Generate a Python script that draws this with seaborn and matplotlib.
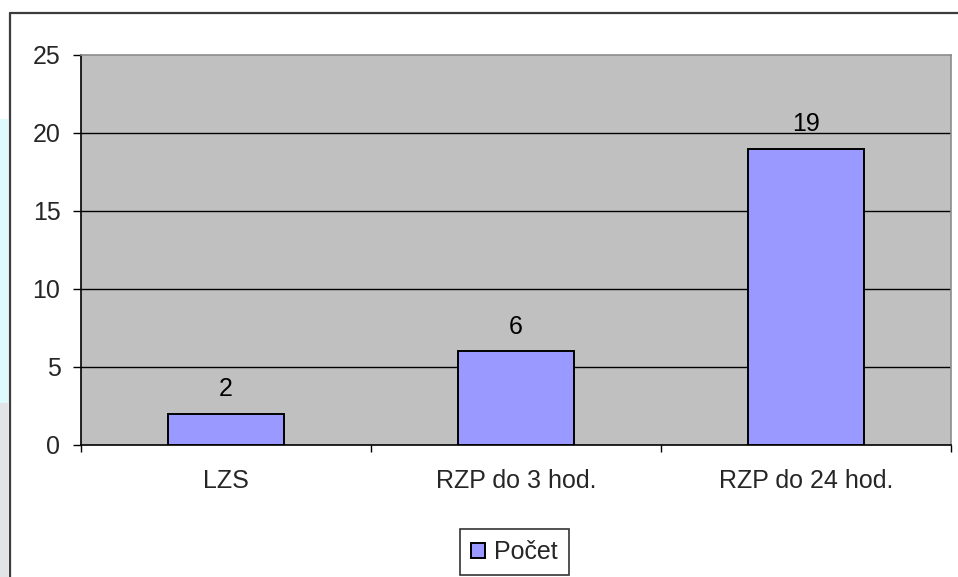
import matplotlib
matplotlib.use("Agg")
import matplotlib.pyplot as plt
from matplotlib.lines import Line2D
from matplotlib.patches import Rectangle
import seaborn as sns
import pandas as pd

# Data
categories = ["LZS", "RZP do 3 hod.", "RZP do 24 hod."]
counts = [2, 6, 19]
series_name = "Počet"
y_ticks = [0, 5, 10, 15, 20, 25]

sns.set_theme(style="white")
plt.rcParams["font.family"] = ["Liberation Sans", "DejaVu Sans"]
FS = 18
plt.rcParams["font.size"] = FS

W, H = 958, 577
fig = plt.figure(figsize=(W / 100, H / 100), dpi=100)
fig.patch.set_facecolor("white")

def fx(px):
    return px / W

def fy(py):
    return 1 - py / H

# Window edge strip on the far left
fig.add_artist(Rectangle((0, fy(403)), fx(8), fy(119) - fy(403),
                         transform=fig.transFigure, facecolor="#DDFBFD",
                         edgecolor="none", zorder=0))
fig.add_artist(Rectangle((0, 0), fx(8), fy(403),
                         transform=fig.transFigure, facecolor="#E2E4E8",
                         edgecolor="none", zorder=0))

# Chart frame (left and top edges)
frame_kw = dict(transform=fig.transFigure, color="#3C3C3C", linewidth=1.6, zorder=1)
fig.add_artist(Line2D([fx(9.5), fx(9.5)], [0, fy(13)], **frame_kw))
fig.add_artist(Line2D([fx(9.5), 1], [fy(13), fy(13)], **frame_kw))

ax = fig.add_axes([fx(81), fy(445), fx(951) - fx(81), fy(55) - fy(445)])
ax.set_facecolor("#C0C0C0")

df = pd.DataFrame({"category": categories, "count": counts})
sns.barplot(data=df, x="category", y="count", color="#9999FF",
            saturation=1, edgecolor="black", linewidth=1.4, width=0.4,
            label=series_name, ax=ax, zorder=3)
if ax.get_legend() is not None:
    ax.get_legend().remove()

ax.set_xlim(-0.5, len(categories) - 0.5)
ax.set_ylim(0, 25)
ax.set_xlabel("")
ax.set_ylabel("")

# Horizontal gridlines
for v in y_ticks[1:-1]:
    ax.axhline(v, color="black", linewidth=1.0, zorder=2)

# Y axis
ax.set_yticks(y_ticks)
ax.tick_params(axis="y", direction="out", length=5.8, width=1.0, color="black",
               pad=9, labelsize=FS, left=True)

# X axis: ticks at category boundaries, labels at centres
ax.set_xticks([i - 0.5 for i in range(len(categories) + 1)])
ax.set_xticklabels([])
ax.set_xticks(range(len(categories)), minor=True)
ax.set_xticklabels(categories, minor=True)
ax.tick_params(axis="x", which="major", direction="out", length=5, width=1.0,
               color="black", bottom=True)
ax.tick_params(axis="x", which="minor", length=0, pad=17, labelsize=FS)

for side in ["left", "bottom"]:
    ax.spines[side].set_color("black")
    ax.spines[side].set_linewidth(1.2)
for side in ["top", "right"]:
    ax.spines[side].set_color("#8C8C8C")
    ax.spines[side].set_linewidth(1.2)

ax.bar_label(ax.containers[0], labels=[str(c) for c in counts],
             padding=9, fontsize=FS, color="black")

handles, labels = ax.get_legend_handles_labels()
leg = fig.legend(handles, labels, loc="center",
                 bbox_to_anchor=(fx(514.5), fy(552)), frameon=True,
                 fancybox=False, shadow=False, fontsize=FS,
                 handlelength=0.55, handleheight=0.55, handletextpad=0.35,
                 borderpad=0.45, borderaxespad=0)
leg.get_frame().set_edgecolor("black")
leg.get_frame().set_linewidth(1.2)

fig.savefig("out.png", dpi=100)
